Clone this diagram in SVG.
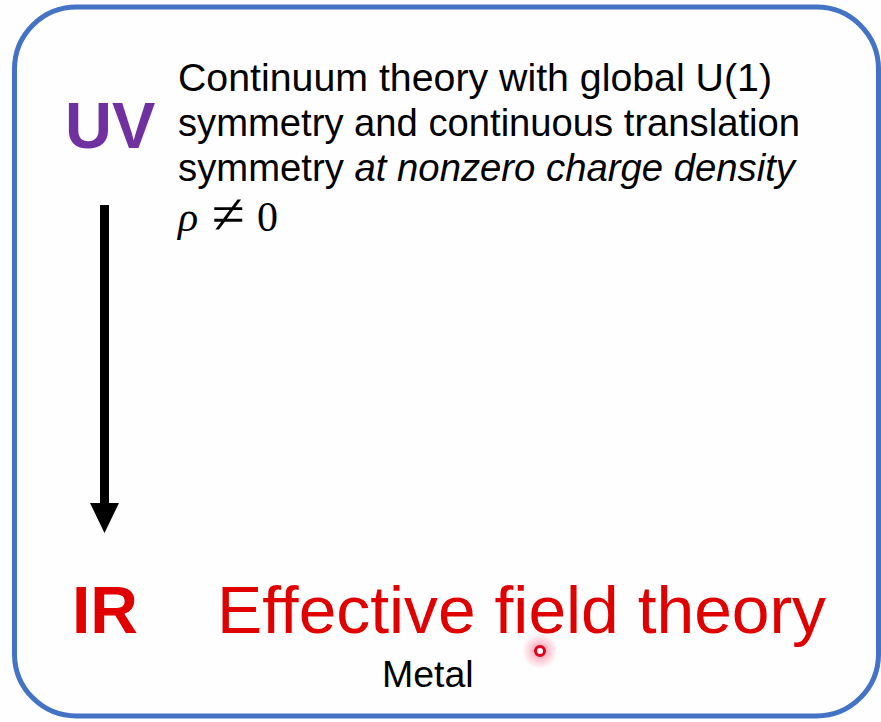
<svg xmlns="http://www.w3.org/2000/svg" width="881" height="722" viewBox="0 0 881 722">
<defs>
<style>
.sans{font-family:"Liberation Sans",Arial,sans-serif}
.body{font-size:39px;fill:#000}
.math{font-family:"Liberation Serif","Times New Roman",serif;fill:#000}
</style>
<radialGradient id="glow"><stop offset="0" stop-color="#ff3355" stop-opacity="0.6"/><stop offset="0.6" stop-color="#ff5577" stop-opacity="0.25"/><stop offset="1" stop-color="#ff5577" stop-opacity="0"/></radialGradient>
</defs>
<rect width="881" height="722" fill="#fefefe"/>
<rect id="frame" x="14.5" y="7" width="864" height="709" rx="62" ry="62" fill="none" stroke="#4472C4" stroke-width="5"/>
<g id="uv"><text class="sans" x="65" y="148" font-size="65" font-weight="bold" fill="#7030A0">UV</text></g>
<g id="uv-desc" class="sans body">
<text x="178" y="91" textLength="594" lengthAdjust="spacingAndGlyphs">Continuum theory with global U(1)</text>
<text x="178" y="136" textLength="622" lengthAdjust="spacingAndGlyphs">symmetry and continuous translation</text>
<text x="178" y="181" textLength="617" lengthAdjust="spacingAndGlyphs">symmetry <tspan font-style="italic">at nonzero charge density</tspan></text>
</g>
<g id="rho" class="math">
<text x="178" y="231" font-size="42" font-style="italic">ρ</text>
<text x="212" y="233" font-size="56" textLength="33" lengthAdjust="spacingAndGlyphs">≠</text>
<text x="257" y="231" font-size="42">0</text>
</g>
<g id="connectors"><line x1="104.5" y1="205" x2="104.5" y2="503" stroke="#000" stroke-width="9"/><path d="M90,503 L119,503 L104.5,533 Z" fill="#000"/></g>
<g id="ir"><text class="sans" x="72" y="633" font-size="66" font-weight="bold" fill="#E00000">IR</text></g>
<g id="eft"><text class="sans" x="217" y="633" font-size="67" fill="#E00000" textLength="609" lengthAdjust="spacingAndGlyphs">Effective field theory</text></g>
<g id="metal"><text class="sans" x="382" y="687" font-size="37.5" fill="#000">Metal</text></g>
<g id="pointer"><circle cx="540" cy="651" r="18" fill="url(#glow)"/><circle cx="540" cy="651" r="4.5" fill="#fff" stroke="#E0001B" stroke-width="3"/></g>
</svg>
